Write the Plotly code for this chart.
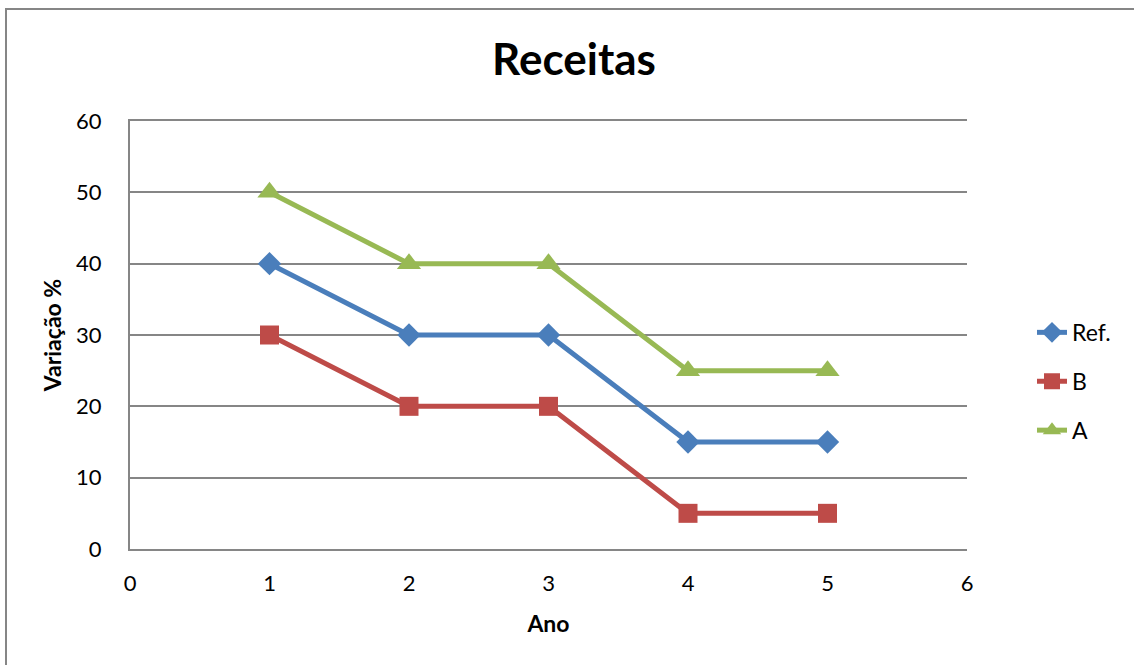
import plotly.graph_objects as go

anos = [1, 2, 3, 4, 5]
ref_vals = [40, 30, 30, 15, 15]
b_vals = [30, 20, 20, 5, 5]
a_vals = [50, 40, 40, 25, 25]

series = [
    ("Ref.", ref_vals, "#4A7EBB", "diamond", 18),
    ("B", b_vals, "#BE4B48", "square", 19),
    ("A", a_vals, "#98B954", "triangle-up", 21),
]

FONT = "Lato, Open Sans, sans-serif"

fig = go.Figure()
for i, (name, vals, color, sym, size) in enumerate(series):
    fig.add_trace(go.Scatter(
        x=anos, y=vals, name=name, mode="lines+markers",
        line=dict(color=color, width=5),
        marker=dict(symbol=sym, size=size, color=color),
        legendgroup=name,
    ))

W, H = 1134, 665
L, R, T, B = 130, W - 967, 121, H - 549
pw, ph = W - L - R, H - T - B

fig.update_layout(
    width=W, height=H,
    margin=dict(l=L, r=R, t=T, b=B),
    paper_bgcolor="white", plot_bgcolor="white",
    font=dict(family=FONT, size=22, color="black"),
    title=dict(text="<b>Receitas</b>", x=574 / W, xanchor="center",
               y=1 - 60 / H, yanchor="middle",
               font=dict(size=44, family=FONT, color="black")),
    xaxis=dict(range=[0, 6], dtick=1, tick0=0, showgrid=False,
               showline=True, linecolor="#868686", linewidth=2, mirror=True,
               zeroline=False, ticks="", ticklen=0, ticklabelstandoff=14,
               title=dict(text="<b>Ano</b>", font=dict(size=23), standoff=20),
               tickfont=dict(size=22)),
    yaxis=dict(range=[0, 60], dtick=10, tick0=0, showgrid=True,
               gridcolor="#868686", gridwidth=1.5,
               showline=True, linecolor="#868686", linewidth=2,
               zeroline=False, ticks="", ticklen=0, ticklabelstandoff=22,
               title=dict(text="<b>Variação %</b>", font=dict(size=23), standoff=8),
               tickfont=dict(size=22)),
    legend=dict(x=(1032 - L) / pw, xanchor="left",
                y=(549 - 343) / ph + 0.075, yanchor="top",
                font=dict(size=23), tracegroupgap=16,
                bgcolor="rgba(0,0,0,0)"),
    shapes=[dict(type="rect", xref="paper", yref="paper",
                 x0=(6 - L) / pw, x1=(1140 - L) / pw,
                 y0=(549 - 670) / ph, y1=(549 - 9) / ph,
                 line=dict(color="#868686", width=2), layer="below")],
)

fig.write_html("out.html")
